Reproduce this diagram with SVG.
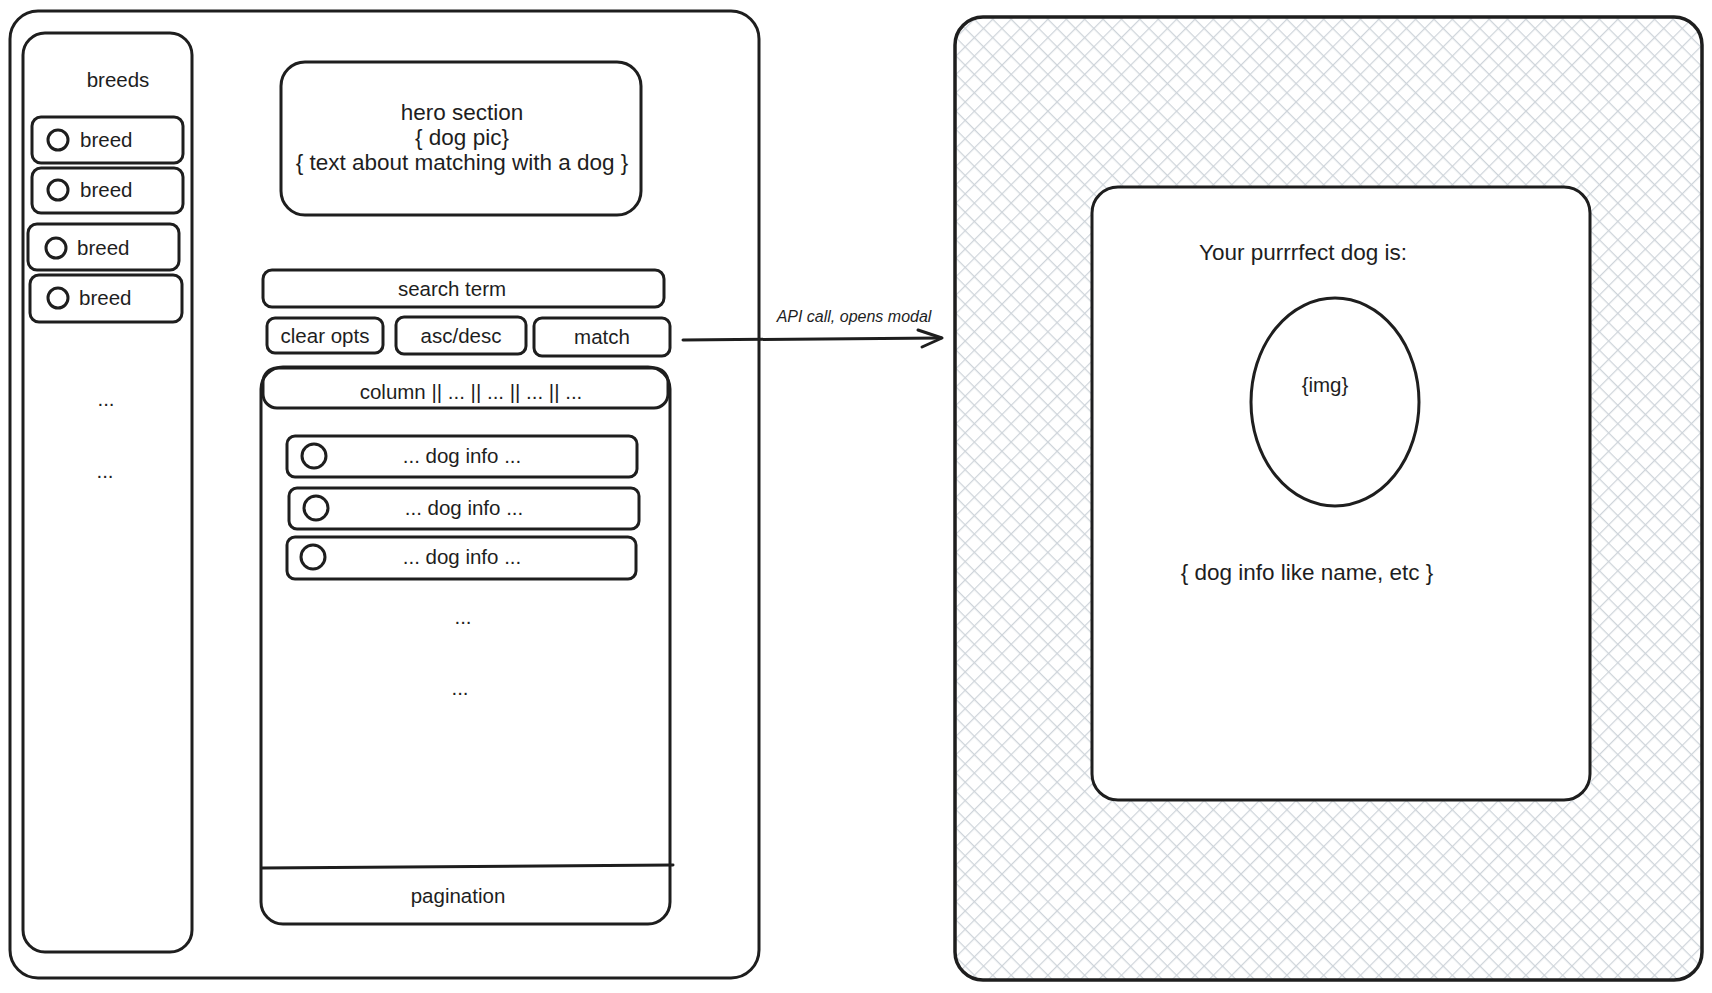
<svg xmlns="http://www.w3.org/2000/svg" width="1712" height="993" viewBox="0 0 1712 993">
<defs>
<pattern id="hatch" patternUnits="userSpaceOnUse" width="13" height="13" patternTransform="rotate(45)">
<rect width="13" height="13" fill="#ffffff"/>
<path d="M0 0H13M0 0V13" stroke="#ced4da" stroke-width="2.4" fill="none"/>
</pattern>
</defs>
<style>
.b{fill:none;stroke:#1e1e1e;stroke-width:3;stroke-linejoin:round;stroke-linecap:round}
.w{fill:#ffffff;stroke:#1e1e1e;stroke-width:3}
.t{font-family:"Liberation Sans",Arial,sans-serif;font-size:20.5px;fill:#1e1e1e;text-anchor:middle;dominant-baseline:central}
.l{text-anchor:start}
.big{font-size:22.5px}
.s{font-size:16px;font-style:italic}
</style>
<rect width="1712" height="993" fill="#ffffff"/>

<g id="page">
<rect class="b" x="10" y="11" width="749" height="967" rx="28"/>
</g>

<g id="sidebar">
<rect class="b" x="23" y="33" width="169" height="919" rx="22"/>
<text class="t" x="118" y="79">breeds</text>
<text class="t" x="106" y="398">...</text>
<text class="t" x="105" y="470">...</text>
</g>

<g id="breed1">
<rect class="b" x="32" y="117" width="151" height="46" rx="9"/>
<circle class="b" cx="58" cy="140" r="10"/>
<text class="t l" x="80" y="139">breed</text>
</g>
<g id="breed2">
<rect class="b" x="32" y="168" width="151" height="45" rx="9"/>
<circle class="b" cx="58" cy="190" r="10"/>
<text class="t l" x="80" y="189">breed</text>
</g>
<g id="breed3">
<rect class="b" x="28" y="224" width="151" height="46" rx="9"/>
<circle class="b" cx="56" cy="248" r="10"/>
<text class="t l" x="77" y="247">breed</text>
</g>
<g id="breed4">
<rect class="b" x="30" y="275" width="152" height="47" rx="9"/>
<circle class="b" cx="58" cy="298" r="10"/>
<text class="t l" x="79" y="297">breed</text>
</g>

<g id="hero">
<rect class="b" x="281" y="62" width="360" height="153" rx="24"/>
<text class="t big" x="462" y="112">hero section</text>
<text class="t big" x="462" y="137">{ dog pic}</text>
<text class="t big" x="462" y="162">{ text about matching with a dog }</text>
</g>

<g id="search">
<rect class="b" x="263" y="270" width="401" height="37" rx="9"/>
<text class="t" x="452" y="288">search term</text>
</g>

<g id="clear">
<rect class="b" x="267" y="318" width="116" height="35" rx="8"/>
<text class="t" x="325" y="335">clear opts</text>
</g>

<g id="sort">
<rect class="b" x="396" y="317" width="130" height="37" rx="8"/>
<text class="t" x="461" y="335">asc/desc</text>
</g>

<g id="match">
<rect class="b" x="534" y="318" width="136" height="38" rx="8"/>
<text class="t" x="602" y="336">match</text>
</g>

<g id="table">
<rect class="b" x="261" y="367" width="409" height="557" rx="22"/>
<rect class="b" x="263" y="368" width="405" height="40" rx="14"/>
<text class="t" x="471" y="391">column || ... || ... || ... || ...</text>
<text class="t" x="463" y="616">...</text>
<text class="t" x="460" y="687">...</text>
<path class="b" d="M262 868 L673 865"/>
<text class="t" x="458" y="895">pagination</text>
</g>

<g id="row1">
<rect class="b" x="287" y="436" width="350" height="41" rx="8"/>
<circle class="b" cx="314" cy="456" r="12"/>
<text class="t" x="462" y="455">... dog info ...</text>
</g>
<g id="row2">
<rect class="b" x="289" y="488" width="350" height="41" rx="8"/>
<circle class="b" cx="316" cy="508" r="12"/>
<text class="t" x="464" y="507">... dog info ...</text>
</g>
<g id="row3">
<rect class="b" x="287" y="537" width="349" height="42" rx="8"/>
<circle class="b" cx="313" cy="557" r="12"/>
<text class="t" x="462" y="556">... dog info ...</text>
</g>

<g id="backdrop">
<rect x="955" y="17" width="747" height="963" rx="28" fill="url(#hatch)" stroke="#1e1e1e" stroke-width="3.5"/>
</g>

<g id="modal">
<rect class="w" x="1092" y="187" width="498" height="613" rx="26"/>
<text class="t big" x="1303" y="252">Your purrrfect dog is:</text>
<ellipse class="b" cx="1335" cy="402" rx="84" ry="104"/>
<text class="t" x="1325" y="384">{img}</text>
<text class="t big" x="1307" y="572">{ dog info like name, etc }</text>
</g>

<g id="connectors">
<path class="b" d="M683 340 L941 338"/>
<path class="b" d="M918 330 L942 338 L922 347"/>
<text class="t s" x="854" y="316">API call, opens modal</text>
</g>
</svg>
